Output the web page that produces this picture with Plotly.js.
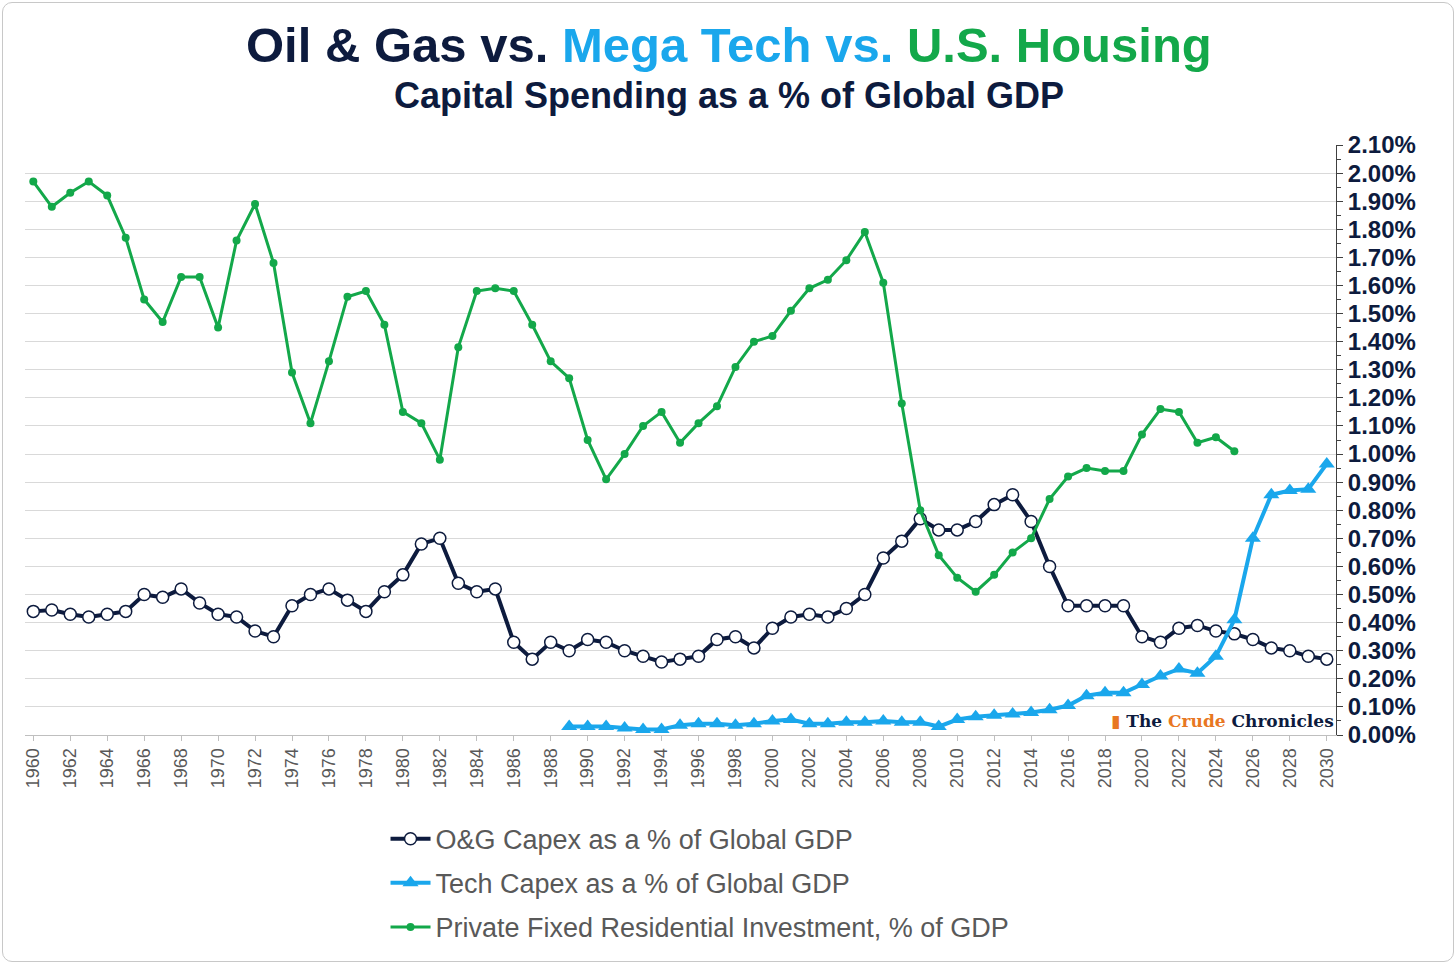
<!DOCTYPE html>
<html><head><meta charset="utf-8">
<script src="https://cdn.plot.ly/plotly-3.0.1.min.js"></script>
<style>body{margin:0;background:#fff}#c{width:1456px;height:964px}
#frame{position:absolute;left:2px;top:2px;width:1450px;height:958px;border:1.5px solid #c8c8c8;border-radius:10px;pointer-events:none}</style>
</head><body><div id="c"></div><div id="frame"></div>
<script>
const years = Array.from({length:71},(_, i)=>1960+i);
const housingYears = years.slice(0,66);
const housing = [1.97,1.88,1.93,1.97,1.92,1.77,1.55,1.47,1.63,1.63,1.45,1.76,1.89,1.68,1.29,1.11,1.33,1.56,1.58,1.46,1.15,1.11,0.98,1.38,1.58,1.59,1.58,1.46,1.33,1.27,1.05,0.91,1.00,1.10,1.15,1.04,1.11,1.17,1.31,1.40,1.42,1.51,1.59,1.62,1.69,1.79,1.61,1.18,0.80,0.64,0.56,0.51,0.57,0.65,0.70,0.84,0.92,0.95,0.94,0.94,1.07,1.16,1.15,1.04,1.06,1.01];
const oag = [0.44,0.445,0.43,0.42,0.43,0.44,0.50,0.49,0.52,0.47,0.43,0.42,0.37,0.35,0.46,0.50,0.52,0.48,0.44,0.51,0.57,0.68,0.70,0.54,0.51,0.52,0.33,0.27,0.33,0.30,0.34,0.33,0.30,0.28,0.26,0.27,0.28,0.34,0.35,0.31,0.38,0.42,0.43,0.42,0.45,0.50,0.63,0.69,0.77,0.73,0.73,0.76,0.82,0.855,0.76,0.60,0.46,0.46,0.46,0.46,0.35,0.33,0.38,0.39,0.37,0.36,0.34,0.31,0.30,0.28,0.27];
const techYears = years.slice(29);
const tech = [0.03,0.03,0.03,0.025,0.02,0.02,0.035,0.04,0.04,0.035,0.04,0.05,0.055,0.04,0.04,0.045,0.045,0.05,0.045,0.045,0.03,0.055,0.065,0.07,0.075,0.08,0.09,0.105,0.14,0.15,0.15,0.18,0.21,0.235,0.22,0.28,0.41,0.70,0.855,0.87,0.875,0.965];
const yTicks = Array.from({length:22},(_, i)=>i/10);
const yTickText = yTicks.map(v=>'<b>'+v.toFixed(2)+'%</b>');
const xTicks = years.filter(y=>y%2===0);

const traces = [
 {x:years,y:oag,name:'O&G Capex as a % of Global GDP',mode:'lines+markers',legendgroup:'a',
  line:{color:'#0d1b3e',width:4},marker:{symbol:'circle',size:12,color:'#fff',line:{color:'#0d1b3e',width:1.5}}},
 {x:techYears,y:tech,name:'Tech Capex as a % of Global GDP',mode:'lines+markers',legendgroup:'b',
  line:{color:'#1aa7ec',width:4},marker:{symbol:'triangle-up',size:14,color:'#1aa7ec'}},
 {x:housingYears,y:housing,name:'Private Fixed Residential Investment, % of GDP',mode:'lines+markers',legendgroup:'c',
  line:{color:'#13a84a',width:3},marker:{symbol:'circle',size:8,color:'#13a84a'}}
];
const layout = {
 width:1456,height:964,paper_bgcolor:'rgba(0,0,0,0)',plot_bgcolor:'#fff',
 margin:{l:25,r:120,t:145,b:225},
 font:{family:'Arial, Liberation Sans, sans-serif'},
 xaxis:{range:[1959.55,2030.5],tickvals:xTicks,tickangle:-90,tickfont:{size:18,color:'#595959'},
  showgrid:false,zeroline:false,showline:true,linecolor:'#bfbfbf',ticks:'outside',ticklen:5,tickcolor:'#bfbfbf'},
 yaxis:{range:[0,2.1],side:'right',tickvals:yTicks,ticktext:yTickText,tickfont:{size:24,color:'#0d1b3e'},
  showgrid:true,gridcolor:'#d9d9d9',zeroline:false,showline:true,linecolor:'#404040',ticks:'outside',ticklen:6,tickcolor:'#404040',
  minor:{dtick:0.05,ticks:'outside',ticklen:4,tickcolor:'#404040'}},
 legend:{x:0.275,xanchor:'left',y:-0.135,yanchor:'top',font:{size:27,color:'#595959'},traceorder:'grouped',tracegroupgap:6,itemwidth:40},
 showlegend:true,
 annotations:[
  {xref:'paper',yref:'paper',x:1.0,y:0.0,xanchor:'right',yanchor:'bottom',yshift:2,showarrow:false,
   text:'<b><span style="color:#e87722">▮</span> <span style="color:#0d1b3e">The </span><span style="color:#e87722">Crude</span><span style="color:#0d1b3e"> Chronicles</span></b>',
   font:{size:17,family:'DejaVu Serif, serif'},bgcolor:'#fff'},
  {xref:'paper',yref:'paper',x:0.5,y:1,yshift:100,xanchor:'center',yanchor:'middle',showarrow:false,xshift:48,
   text:'<b><span style="color:#0d1b3e">Oil & Gas vs. </span><span style="color:#1aa7ec">Mega Tech vs. </span><span style="color:#13a84a">U.S. Housing</span></b>',
   font:{size:49}},
  {xref:'paper',yref:'paper',x:0.5,y:1,yshift:50,xanchor:'center',yanchor:'middle',showarrow:false,xshift:48,
   text:'<b>Capital Spending as a % of Global GDP</b>',font:{size:36,color:'#0d1b3e'}}
 ]
};
Plotly.newPlot('c',traces,layout,{displayModeBar:false});
</script></body></html>
